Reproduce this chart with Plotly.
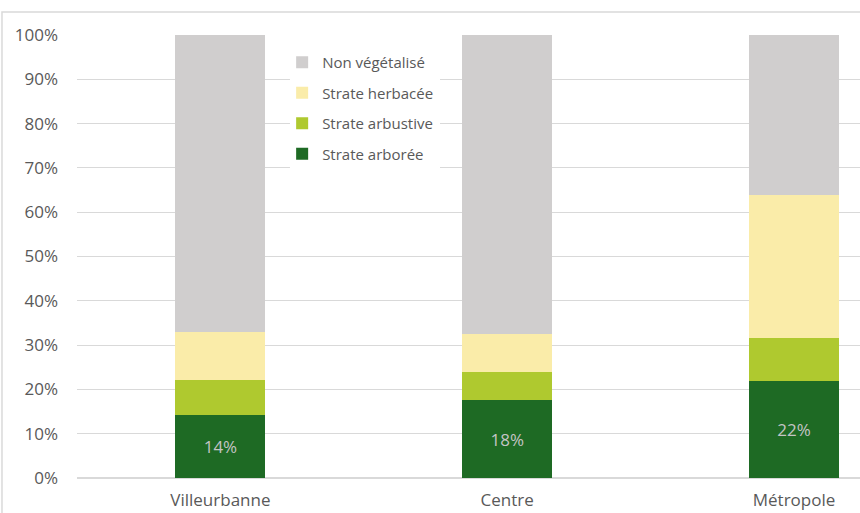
import plotly.graph_objects as go

categories = ["Villeurbanne", "Centre", "Métropole"]
series_names = ["Strate arborée", "Strate arbustive", "Strate herbacée", "Non végétalisé"]
arboree = [0.143, 0.175, 0.219]
arbustive = [0.078, 0.064, 0.096]
herbacee = [0.109, 0.087, 0.324]
non_veg = [0.670, 0.674, 0.361]
colors = ["#1e6a24", "#afc92f", "#faeca9", "#d0cece"]
tick_vals = [i / 10 for i in range(11)]
tick_text = [f"{i*10}%" for i in range(11)]

font = "Open Sans"
fig = go.Figure()
for i, (name, vals) in enumerate(zip(series_names, [arboree, arbustive, herbacee, non_veg])):
    kw = {}
    if i == 0:
        kw = dict(texttemplate="%{y:.0%}", textposition="inside", insidetextanchor="middle",
                  textfont=dict(color="#c4c4c4", size=17, family=font))
    fig.add_trace(go.Bar(x=categories, y=vals, name=name, marker=dict(color=colors[i], line=dict(width=0)),
                         width=0.314, legendgroup=name, legendrank=10 - i, hoverinfo="skip", **kw))

fig.update_layout(
    width=860, height=513, barmode="stack",
    margin=dict(l=77, r=0, t=35, b=35),
    paper_bgcolor="white", plot_bgcolor="white",
    font=dict(family=font, color="#595959", size=17),
    showlegend=True,
    legend=dict(traceorder="grouped", tracegroupgap=8, x=0.262, y=0.975, xanchor="left", yanchor="top",
                bgcolor="rgba(0,0,0,0)", font=dict(size=15, color="#595959", family=font),
                itemwidth=30),
    xaxis=dict(range=[-0.5, 2.23], showgrid=False, showline=False, ticks="", tickfont=dict(size=17),
               ticklabelstandoff=10, automargin=False),
    yaxis=dict(range=[0, 1], tickvals=tick_vals, ticktext=tick_text, showgrid=True, gridcolor="#d9d9d9",
               gridwidth=1, zeroline=True, zerolinecolor="#d9d9d9", showline=False, ticks="",
               ticklabelstandoff=18, tickfont=dict(size=17), automargin=False),
    shapes=[dict(type="rect", xref="paper", yref="paper", x0=-0.0958, x1=1.2, y0=-0.3, y1=1.052,
                 line=dict(color="#d9d9d9", width=1.5), layer="below"),
            dict(type="rect", xref="paper", yref="paper", x0=0.272, x1=0.4636, y0=0.695, y1=1.034,
                 line=dict(width=0), fillcolor="white", layer="above")],
)
fig.write_html("out.html")
